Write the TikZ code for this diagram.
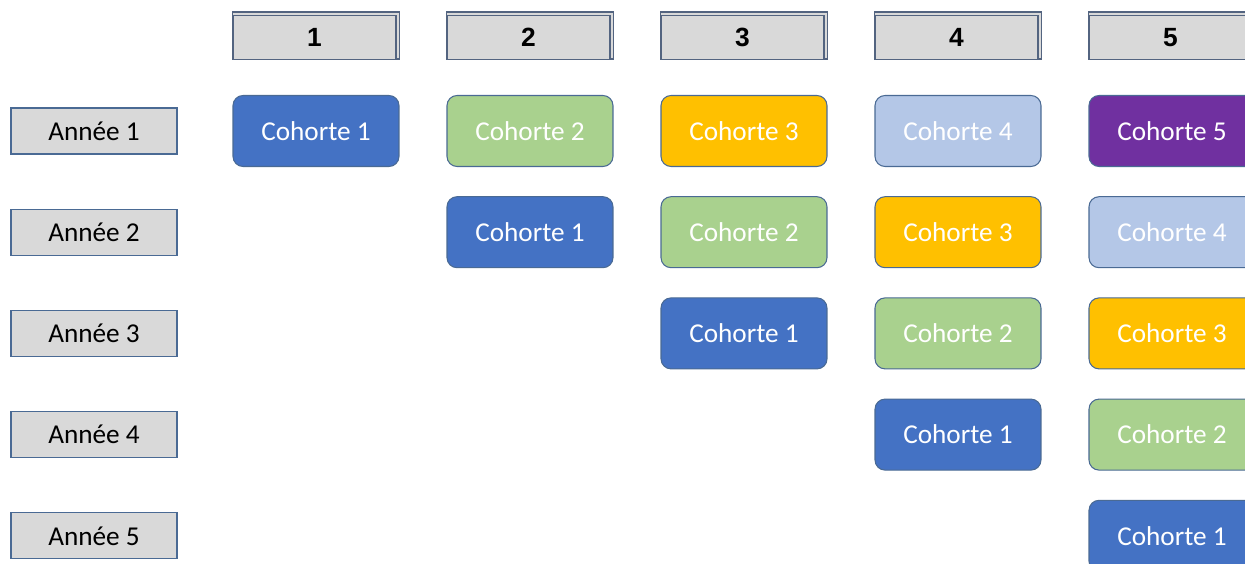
\documentclass[tikz,border=0pt]{standalone}
\usepackage{fontspec}
\setmainfont{Carlito}
\newfontfamily\hdrfont{Liberation Sans}
\usetikzlibrary{positioning,backgrounds}
% cohort colours
\definecolor{coh1}{HTML}{4472C4}
\definecolor{coh2}{HTML}{A9D18E}
\definecolor{coh3}{HTML}{FFC000}
\definecolor{coh4}{HTML}{B4C7E7}
\definecolor{coh5}{HTML}{7030A0}
\definecolor{boxgray}{HTML}{D9D9D9}
\definecolor{boxline}{HTML}{4A6A94}
\definecolor{hdrline}{HTML}{536480}
\tikzset{
  yearbox/.style={draw=boxline,fill=boxgray,line width=0.6pt,
    minimum width=3.32cm,minimum height=0.92cm,inner sep=0pt,
    font=\fontsize{15.5}{18}\selectfont},
  colhdr/.style={draw=hdrline,fill=boxgray,line width=0.6pt,
    minimum width=3.26cm,minimum height=0.88cm,inner sep=0pt,
    font=\hdrfont\bfseries\fontsize{15}{18}\selectfont},
  hdrback/.style={draw=hdrline,fill=boxgray,line width=0.6pt},
  cohort/.style={draw=boxline,rounded corners=0.2cm,line width=0.6pt,
    minimum width=3.32cm,minimum height=1.42cm,inner sep=0pt,
    text=white,font=\fontsize{15.5}{18}\selectfont},
}

\begin{document}
\begin{tikzpicture}[x=0.02cm,y=-0.02cm]
  \useasboundingbox (0,0) rectangle (1245,564);
  \clip (0,0) rectangle (1245,564);
  % column headers, with a raised edge behind
  \foreach \j in {1,...,5}{
    \node[colhdr] (hdr\j) at ({314.5+214*(\j-1)},37.5) {\j};
    \begin{scope}[on background layer]
      \draw[hdrback] ([yshift=0.06cm]hdr\j.north west)
        rectangle ([xshift=0.06cm,yshift=0.02cm]hdr\j.south east);
    \end{scope}
  }
  % year labels
  \foreach \i in {1,...,5}{
    \node[yearbox] (yr\i) at (94,{131+101.2*(\i-1)}) {Année \i};
  }
  % cohorts: column j, row i holds cohort j-i+1
  \foreach \j in {1,...,5}{
    \foreach \i in {1,...,\j}{
      \pgfmathtruncatemacro\c{\j-\i+1}
      \node[cohort,fill=coh\c] (coh-\i-\j)
        at ({316+214*(\j-1)},{131+101.2*(\i-1)}) {Cohorte \c};
    }
  }
\end{tikzpicture}
\end{document}
